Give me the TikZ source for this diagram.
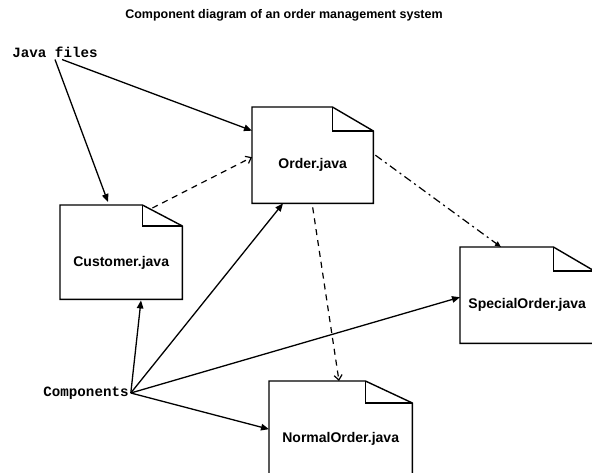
\documentclass[tikz,border=0pt]{standalone}
\usepackage{fontspec}
\setmainfont{Liberation Sans}
\setmonofont{Liberation Mono}
\usetikzlibrary{arrows.meta,positioning}
\tikzset{
    filebox/.style={draw=none, inner sep=0pt, anchor=north west},
    fileline/.style={line width=1.4pt, line join=miter},
    filename/.style={font=\fontsize{14}{16}\selectfont\bfseries},
    tag/.style={font=\fontsize{14.2}{16}\selectfont\ttfamily\bfseries, inner sep=2pt},
    solidarrow/.style={-{Triangle[length=8pt,width=6.5pt]}, line width=1.3pt},
    dasharrow/.style={-{Straight Barb[length=5pt,width=8pt]}, line width=1.2pt,
        dash pattern=on 6pt off 5pt},
    dotarrow/.style={-{Triangle[length=6pt,width=5pt]}, line width=1.2pt,
        dash pattern=on 8pt off 4pt on 2pt off 4pt}
}
% name, top left corner, width, height, fold width, fold height, text
\newcommand{\javafile}[7]{
    \node[filebox, minimum width=#3, minimum height=#4] (#1) at #2 {};
    \draw[fileline] (#1.north west) -- ([xshift=-#5]#1.north east)
        -- ([yshift=-#6]#1.north east) -- (#1.south east)
        -- (#1.south west) -- cycle;
    \draw[fileline] ([xshift=-#5]#1.north east) |- ([yshift=-#6]#1.north east);
    \node[filename] (#1-name) at ([yshift=-58pt]#1.north) {#7};
}

\begin{document}
\begin{tikzpicture}[x=1pt,y=-1pt]
    \clip (0,0) rectangle (592,473);

    \node[font=\fontsize{12.5}{14}\selectfont\bfseries] (title) at (284,15)
        {Component diagram of an order management system};

    \javafile{order}{(252,107)}{121pt}{96pt}{41pt}{24pt}{Order.java}
    \javafile{cust}{(60,205)}{122pt}{94pt}{40pt}{21pt}{Customer.java}
    \javafile{special}{(460,247)}{134pt}{96pt}{41pt}{24pt}{SpecialOrder.java}
    \javafile{normal}{(269,381)}{143pt}{96pt}{47pt}{22pt}{NormalOrder.java}

    \node[tag] (jf) at (55,52) {Java files};
    \node[tag] (comp) at (86,393) {Components};

    % java files
    \draw[solidarrow] (jf.south) -- ([xshift=48pt,yshift=3pt]cust.north west);
    \draw[solidarrow] ([xshift=7pt]jf.south) -- (order.158);

    % dependencies
    \draw[dasharrow] ([xshift=-30pt,yshift=-3pt]cust.north east) -- ([yshift=-2pt]order.west);
    \draw[dasharrow] ([yshift=-4pt]order.south) -- ([xshift=70pt]normal.north west);
    \draw[dotarrow] ([xshift=2pt]order.east) -- ([xshift=41pt]special.north west);

    % components
    \draw[solidarrow] (comp.east) -- ([xshift=81pt,yshift=-1pt]cust.south west);
    \draw[solidarrow] (comp.east) -- ([xshift=31pt]order.south west);
    \draw[solidarrow] (comp.east) -- ([yshift=-2pt]special.west);
    \draw[solidarrow] (comp.east) -- (normal.west);
\end{tikzpicture}
\end{document}
